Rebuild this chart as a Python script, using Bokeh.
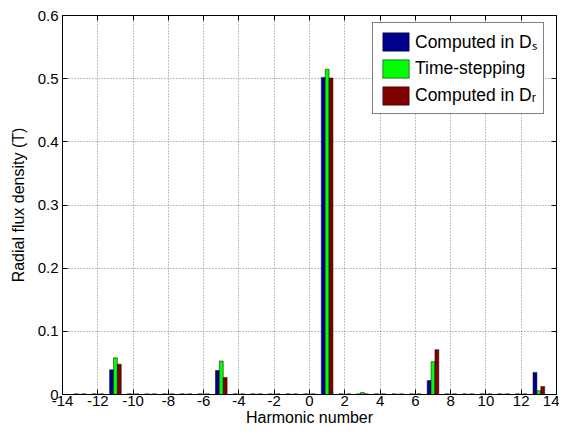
from bokeh.plotting import figure
from bokeh.models import ColumnDataSource, FixedTicker, Range1d, Legend, LegendItem, LinearAxis
from bokeh.transform import dodge
from bokeh.embed import file_html
from bokeh.resources import INLINE

harmonics = [-13, -12, -11, -10, -9, -8, -7, -6, -5, -4, -3, -2, -1, 0,
             1, 2, 3, 4, 5, 6, 7, 8, 9, 10, 11, 12, 13]
computed_ds = [0.001, 0.001, 0.039, 0.001, 0.001, 0.001, 0.001, 0.001, 0.038, 0.001, 0.001, 0.001, 0.001, 0.001,
               0.502, 0.001, 0.001, 0.001, 0.001, 0.001, 0.022, 0.001, 0.001, 0.001, 0.001, 0.001, 0.035]
time_stepping = [0.0004, 0.0004, 0.058, 0.0004, 0.0004, 0.0004, 0.0004, 0.0004, 0.053, 0.0004, 0.0004, 0.0004, 0.0004, 0.0004,
                 0.515, 0.0004, 0.003, 0.0004, 0.0004, 0.0004, 0.052, 0.0004, 0.0004, 0.0004, 0.0004, 0.0004, 0.006]
computed_dr = [0.001, 0.001, 0.048, 0.001, 0.001, 0.001, 0.001, 0.001, 0.027, 0.001, 0.001, 0.001, 0.001, 0.001,
               0.501, 0.001, 0.001, 0.001, 0.001, 0.001, 0.071, 0.001, 0.001, 0.001, 0.001, 0.001, 0.0125]
x_ticks = [-14, -12, -10, -8, -6, -4, -2, 0, 2, 4, 6, 8, 10, 12, 14]
x_tick_labels = ["-14", "-12", "-10", "-8", "-6", "-4", "-2", "0", "2", "4", "6", "8", "10", "12", "14"]
y_ticks = [0, 0.1, 0.2, 0.3, 0.4, 0.5, 0.6]
y_tick_labels = ["0", "0.1", "0.2", "0.3", "0.4", "0.5", "0.6"]
series_names = ["Computed in D\u209b", "Time-stepping", "Computed in D\u1d63"]
series_colors = ["#00008F", "#00FF00", "#800000"]

FONT = "Liberation Sans"

src = ColumnDataSource(dict(h=harmonics, ds=computed_ds, ts=time_stepping, dr=computed_dr))

p = figure(width=559, height=428, output_backend="svg", toolbar_location=None,
           x_range=Range1d(-14, 14), y_range=Range1d(0, 0.6),
           min_border_left=62, min_border_right=3, min_border_top=15, min_border_bottom=31)
p.background_fill_color = "white"
p.border_fill_color = "white"
p.outline_line_color = "black"
p.outline_line_width = 1

bw = 0.22
r1 = p.vbar(x=dodge("h", -bw, range=p.x_range), top="ds", width=bw, source=src,
            fill_color=series_colors[0], line_color="black", line_width=0.5)
r2 = p.vbar(x=dodge("h", 0, range=p.x_range), top="ts", width=bw, source=src,
            fill_color=series_colors[1], line_color="black", line_width=0.5)
r3 = p.vbar(x=dodge("h", bw, range=p.x_range), top="dr", width=bw, source=src,
            fill_color=series_colors[2], line_color="black", line_width=0.5)

for ax in (p.xaxis[0], p.yaxis[0]):
    ax.major_tick_in = 5
    ax.major_tick_out = 0
    ax.minor_tick_line_color = None
    ax.axis_line_color = "black"
    ax.major_tick_line_color = "black"
    ax.major_label_text_font = FONT
    ax.major_label_text_font_size = "15px"
    ax.major_label_text_color = "black"
    ax.axis_label_text_font = FONT
    ax.axis_label_text_font_size = "16px"
    ax.axis_label_text_font_style = "normal"
    ax.axis_label_text_color = "black"

p.xaxis[0].ticker = FixedTicker(ticks=x_ticks)
p.yaxis[0].ticker = FixedTicker(ticks=y_ticks)
p.xaxis[0].major_label_overrides = {t: s for t, s in zip(x_ticks, x_tick_labels)}
p.yaxis[0].major_label_overrides = {t: s for t, s in zip(y_ticks, y_tick_labels)}
p.xaxis[0].major_label_standoff = 1
p.xaxis[0].axis_label = "Harmonic number"
p.xaxis[0].axis_label_standoff = 0
p.yaxis[0].major_label_standoff = 4
p.yaxis[0].axis_label = "Radial flux density (T)"
p.yaxis[0].axis_label_standoff = 8

# mirrored inward ticks on top and right (box on)
top_ax = LinearAxis(ticker=FixedTicker(ticks=x_ticks), major_label_overrides={t: "" for t in x_ticks},
                    major_label_standoff=0, major_tick_in=5, major_tick_out=0,
                    minor_tick_line_color=None, axis_line_color="black")
right_ax = LinearAxis(ticker=FixedTicker(ticks=y_ticks), major_label_overrides={t: "" for t in y_ticks},
                      major_label_standoff=0, major_tick_in=5, major_tick_out=0,
                      minor_tick_line_color=None, axis_line_color="black")
p.add_layout(top_ax, "above")
p.add_layout(right_ax, "right")

p.xgrid.ticker = FixedTicker(ticks=x_ticks)
p.ygrid.ticker = FixedTicker(ticks=y_ticks)
p.grid.grid_line_color = "#808080"
p.grid.grid_line_dash = "1 2"
p.grid.grid_line_width = 1

legend = Legend(items=[LegendItem(label=series_names[0], renderers=[r1]),
                       LegendItem(label=series_names[1], renderers=[r2]),
                       LegendItem(label=series_names[2], renderers=[r3])],
                location=(310, 280))
legend.label_text_font = FONT
legend.label_text_font_size = "17.5px"
legend.label_text_color = "black"
legend.glyph_width = 33
legend.glyph_height = 23
legend.spacing = 4
legend.padding = 6
legend.margin = 0
legend.label_standoff = 3
legend.border_line_color = "black"
legend.border_line_width = 1
legend.background_fill_alpha = 1
p.add_layout(legend)

open("out.html", "w").write(file_html(p, INLINE))
